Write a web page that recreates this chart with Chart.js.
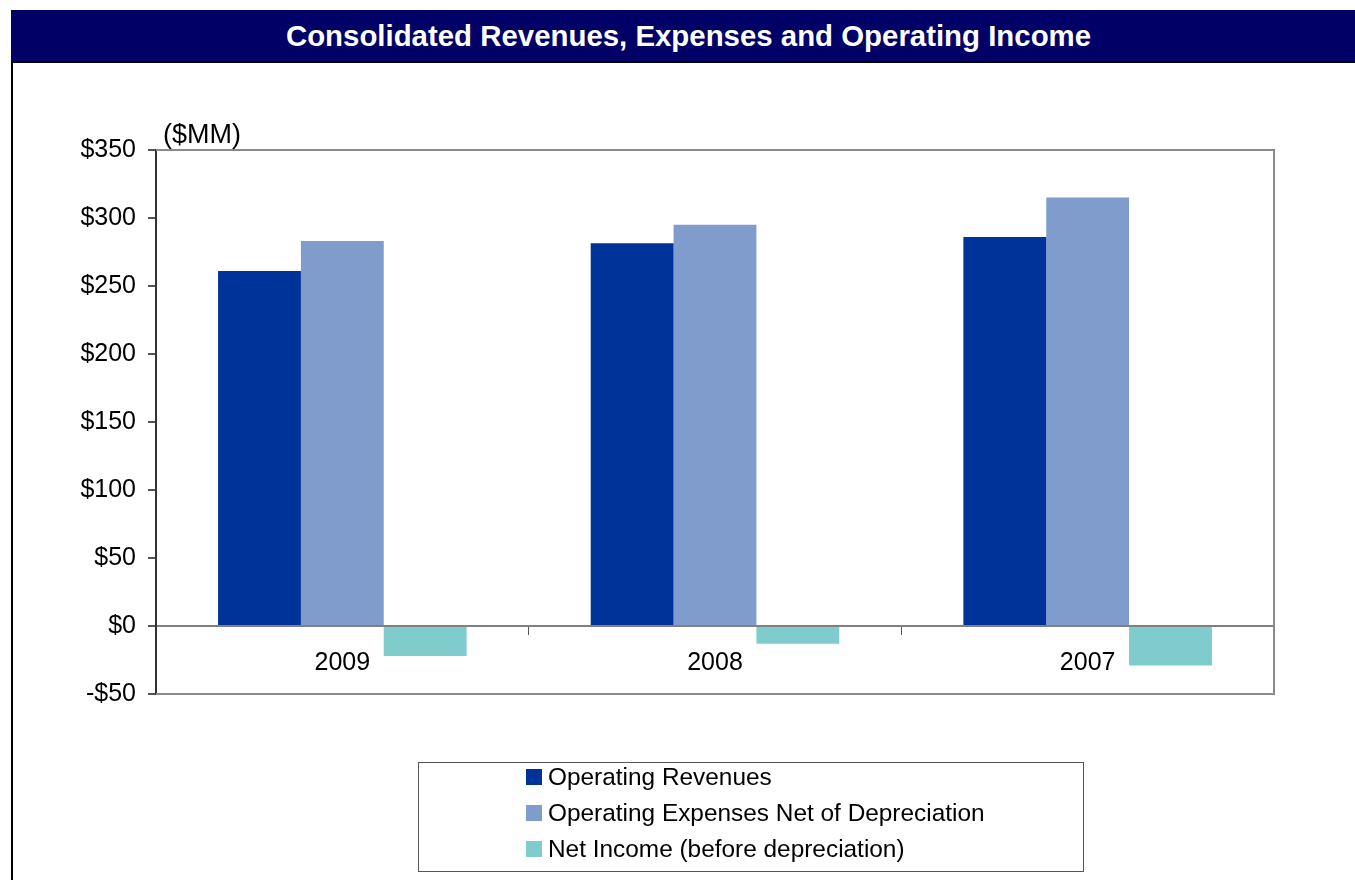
<!DOCTYPE html>
<html>
<head>
<meta charset="utf-8">
<script src="https://cdn.jsdelivr.net/npm/chart.js@4/dist/chart.umd.min.js"></script>
<style>
  html, body { margin: 0; padding: 0; background: #fff; width: 1355px; height: 880px; overflow: hidden; font-family: "Liberation Sans", Arial, sans-serif; }
  #titlebar { position: absolute; left: 11px; top: 10px; width: 1355px; height: 51px; background: #000066; color: #fff; font-weight: bold; font-size: 29.4px; line-height: 52px; text-align: center; white-space: nowrap; }
  #frame { position: absolute; left: 11px; top: 61px; width: 1400px; height: 900px; border-left: 2px solid #000; border-top: 2px solid #000; box-sizing: border-box; }
  #chart { position: absolute; left: 0; top: 0; }
  #legend { position: absolute; left: 418px; top: 762px; width: 666px; height: 110px; border: 1px solid #555; box-sizing: border-box; background: #fff; }
  #legend ul { list-style: none; margin: 0; padding: 0; position: absolute; left: 107px; top: -4px; }
  #legend li { height: 36px; line-height: 36px; font-size: 24.4px; color: #000; white-space: nowrap; display: flex; align-items: center; }
  #legend .sw { display: inline-block; width: 16px; height: 16px; margin-right: 6px; }
</style>
</head>
<body>
<div id="titlebar">Consolidated Revenues, Expenses and Operating Income</div>
<div id="frame"></div>
<canvas id="chart" width="1355" height="880"></canvas>
<div id="legend"><ul id="legendList"></ul></div>
<script>
const years = ['2009', '2008', '2007'];
const operatingRevenues = [261, 281.5, 286];
const operatingExpenses = [283, 295, 315];
const netIncome = [-22, -13, -29];
const seriesNames = ['Operating Revenues', 'Operating Expenses Net of Depreciation', 'Net Income (before depreciation)'];
const seriesColors = ['#003399', '#809ccc', '#80cccc'];
const unitLabel = '($MM)';
const yMin = -50, yMax = 350, yStep = 50;

const framePlugin = {
  id: 'plotFrame',
  afterDraw(chart) {
    const { ctx, chartArea: a } = chart;
    ctx.save();
    ctx.strokeStyle = '#8a8a8a';
    ctx.lineWidth = 2;
    ctx.beginPath();
    ctx.moveTo(a.left, a.top);
    ctx.lineTo(a.right, a.top);
    ctx.lineTo(a.right, a.bottom);
    ctx.lineTo(a.left, a.bottom);
    ctx.stroke();
    ctx.fillStyle = '#000';
    ctx.font = '27px "Liberation Sans", Arial, sans-serif';
    ctx.textBaseline = 'alphabetic';
    ctx.textAlign = 'left';
    ctx.fillText(unitLabel, a.left + 7, a.top - 7);
    ctx.restore();
  }
};

const chart = new Chart(document.getElementById('chart'), {
  type: 'bar',
  data: {
    labels: years,
    datasets: [
      { label: seriesNames[0], data: operatingRevenues, backgroundColor: seriesColors[0] },
      { label: seriesNames[1], data: operatingExpenses, backgroundColor: seriesColors[1] },
      { label: seriesNames[2], data: netIncome, backgroundColor: seriesColors[2] }
    ]
  },
  options: {
    responsive: false,
    animation: false,
    devicePixelRatio: 1,
    layout: { padding: { left: 56, top: 150, right: 81, bottom: 186 } },
    datasets: { bar: { categoryPercentage: 0.667, barPercentage: 1.0, borderWidth: 0 } },
    plugins: { legend: { display: false }, tooltip: { enabled: false }, title: { display: false } },
    scales: {
      x: {
        position: { y: 0 },
        offset: true,
        grid: { offset: true, drawOnChartArea: false, drawTicks: true, tickLength: 8, color: '#555', lineWidth: 1 },
        border: { display: true, color: '#808080', width: 2 },
        ticks: { color: '#000', font: { family: '"Liberation Sans", Arial, sans-serif', size: 25 }, padding: 14, maxRotation: 0 }
      },
      y: {
        min: yMin, max: yMax,
        afterFit(scale) { scale.width = 100; },
        grid: { drawOnChartArea: false, drawTicks: true, tickLength: 8, color: '#555', lineWidth: 2 },
        border: { display: true, color: '#333', width: 2 },
        ticks: {
          stepSize: yStep,
          color: '#000',
          padding: 12,
          font: { family: '"Liberation Sans", Arial, sans-serif', size: 25 },
          callback: v => (v < 0 ? '-$' + Math.abs(v) : '$' + v)
        }
      }
    }
  },
  plugins: [framePlugin]
});

const list = document.getElementById('legendList');
chart.data.datasets.forEach(ds => {
  const li = document.createElement('li');
  const sw = document.createElement('span');
  sw.className = 'sw';
  sw.style.background = ds.backgroundColor;
  li.appendChild(sw);
  li.appendChild(document.createTextNode(ds.label));
  list.appendChild(li);
});
</script>
</body>
</html>
